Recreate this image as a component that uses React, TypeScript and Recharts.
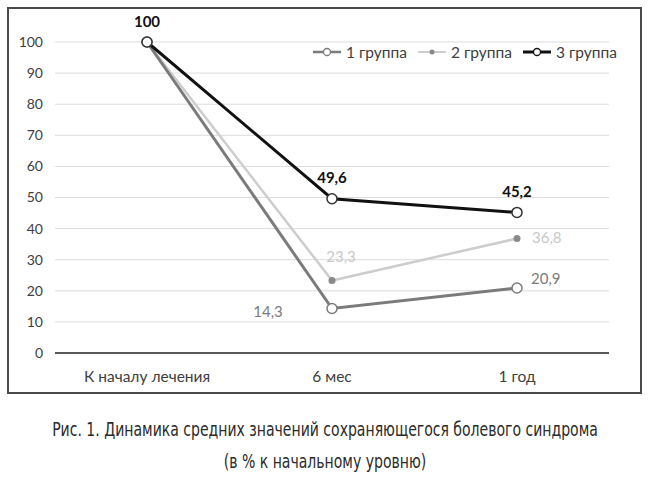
import React from "react";
import {
  LineChart,
  Line,
  XAxis,
  YAxis,
  CartesianGrid,
  LabelList,
} from "recharts";

const categories = ["К началу лечения", "6 мес", "1 год"];
const group1 = [100, 14.3, 20.9];
const group2 = [100, 23.3, 36.8];
const group3 = [100, 49.6, 45.2];
const yTicks = [0, 10, 20, 30, 40, 50, 60, 70, 80, 90, 100];
const seriesNames = ["1 группа", "2 группа", "3 группа"];
const captionLines = [
  "Рис. 1. Динамика средних значений сохраняющегося болевого синдрома",
  "(в % к начальному уровню)",
];

const data = categories.map((c, i) => ({
  cat: c,
  g1: group1[i],
  g2: group2[i],
  g3: group3[i],
}));

const FONT = "Lato, 'Open Sans', sans-serif";
const C1 = "#7b7b7b";
const C2 = "#cdcdcd";
const C2DOT = "#8a8a8a";
const C3 = "#111111";

const fmt = (v: number) => String(v).replace(".", ",");

// label placement per series and point index: [dx, dy, anchor] or null
const place1: ([number, number, string] | null)[] = [null, [-64, 8.5, "middle"], [14, -4, "start"]];
const place2: ([number, number, string] | null)[] = [null, [9, -18.5, "middle"], [15, 4.5, "start"]];
const place3: ([number, number, string] | null)[] = [[0, -15.5, "middle"], [0, -16, "middle"], [0, -15.5, "middle"]];

const makeLabel =
  (place: ([number, number, string] | null)[], color: string, bold: boolean) =>
  (props: any) => {
    const { x, y, value, index } = props;
    const p = place[index];
    if (!p) return null;
    return (
      <text
        x={x + p[0]}
        y={y + p[1]}
        textAnchor={p[2] as any}
        fill={color}
        fontFamily={FONT}
        fontSize={15}
        fontWeight={bold ? 700 : 400}
      >
        {fmt(value)}
      </text>
    );
  };

const LegendBox = () => {
  const items = [
    { name: seriesNames[0], color: C1, w: 2.5, dot: "open", dotColor: C1 },
    { name: seriesNames[1], color: C2, w: 2, dot: "fill", dotColor: C2DOT },
    { name: seriesNames[2], color: C3, w: 3, dot: "open", dotColor: C3 },
  ];
  return (
    <div
      style={{
        position: "absolute",
        left: 312,
        top: 43,
        display: "flex",
        alignItems: "center",
        fontFamily: FONT,
        fontSize: 15.5,
        lineHeight: "18px",
        color: "#404040",
        whiteSpace: "nowrap",
      }}
    >
      {items.map((it, i) => (
        <div key={i} style={{ display: "flex", alignItems: "center", marginRight: 10 }}>
          <svg width={30} height={12} style={{ marginRight: 4 }}>
            <line x1={1} y1={6} x2={29} y2={6} stroke={it.color} strokeWidth={it.w} />
            {it.dot === "open" ? (
              <circle cx={15} cy={6} r={3.5} fill="#fff" stroke={it.dotColor} strokeWidth={1.3} />
            ) : (
              <circle cx={15} cy={6} r={2.5} fill={it.dotColor} />
            )}
          </svg>
          <span>{it.name}</span>
        </div>
      ))}
    </div>
  );
};

export default function App() {
  return (
    <div
      style={{
        position: "absolute",
        left: 0,
        top: 0,
        width: 650,
        height: 477,
        background: "#fff",
        overflow: "hidden",
      }}
    >
      <div style={{ position: "absolute", left: 0, top: 0, width: 650, height: 400 }}>
        <LineChart
          width={650}
          height={400}
          data={data}
          margin={{ top: 42, right: 41, bottom: 17, left: 15 }}
        >
          <CartesianGrid vertical={false} stroke="#dcdcdc" strokeWidth={1} />
          <XAxis
            dataKey="cat"
            padding={{ left: 92, right: 92 }}
            tickLine={false}
            axisLine={{ stroke: "#5a5a5a", strokeWidth: 2 }}
            tickMargin={12}
            height={30}
            tick={{ fontFamily: FONT, fontSize: 15.5, fill: "#404040" }}
          />
          <YAxis
            domain={[0, 100]}
            ticks={yTicks}
            width={40}
            tickLine={false}
            axisLine={false}
            tickMargin={6}
            tick={{ fontFamily: FONT, fontSize: 14, fill: "#404040" }}
          />
          <Line
            dataKey="g2"
            name={seriesNames[1]}
            stroke={C2}
            strokeWidth={2.5}
            dot={{ r: 3.5, fill: C2DOT, stroke: C2DOT, strokeWidth: 0 }}
            isAnimationActive={false}
          >
            <LabelList dataKey="g2" content={makeLabel(place2, "#c8c8c8", false)} />
          </Line>
          <Line
            dataKey="g1"
            name={seriesNames[0]}
            stroke={C1}
            strokeWidth={3}
            dot={{ r: 5, fill: "#fff", stroke: C1, strokeWidth: 1.5 }}
            isAnimationActive={false}
          >
            <LabelList dataKey="g1" content={makeLabel(place1, "#7b7b7b", false)} />
          </Line>
          <Line
            dataKey="g3"
            name={seriesNames[2]}
            stroke={C3}
            strokeWidth={3}
            dot={{ r: 5, fill: "#fff", stroke: "#333", strokeWidth: 1.5 }}
            isAnimationActive={false}
          >
            <LabelList dataKey="g3" content={makeLabel(place3, "#111", true)} />
          </Line>
        </LineChart>
      </div>
      <LegendBox />
      <div
        style={{
          position: "absolute",
          left: 7,
          top: 7,
          width: 635,
          height: 387,
          boxSizing: "border-box",
          border: "2px solid #4a4a4a",
          pointerEvents: "none",
        }}
      />
      <div
        style={{
          position: "absolute",
          left: -200,
          top: 413,
          width: 1050,
          textAlign: "center",
          fontFamily: "'DejaVu Sans Condensed', sans-serif",
          fontSize: 20,
          lineHeight: "32px",
          color: "#2b2b2b",
        }}
      >
        {captionLines.map((l, i) => (
          <div key={i} style={{ transform: "scaleX(0.78)", transformOrigin: "525px 0", whiteSpace: "nowrap" }}>
            {l}
          </div>
        ))}
      </div>
    </div>
  );
}
